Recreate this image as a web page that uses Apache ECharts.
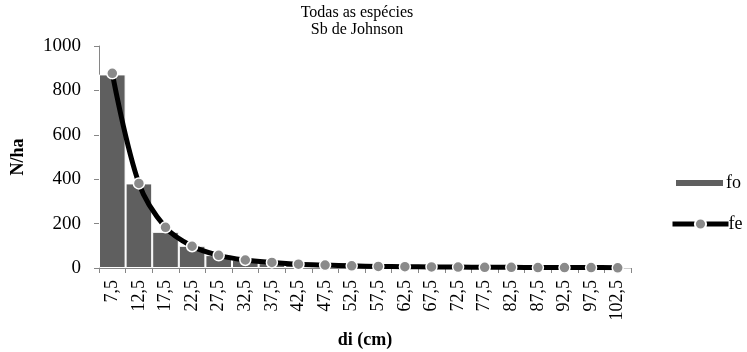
<!DOCTYPE html>
<html><head><meta charset="utf-8">
<script src="https://cdn.jsdelivr.net/npm/echarts@6/dist/echarts.min.js"></script>
<style>html,body{margin:0;padding:0;background:#fff}#c{width:747px;height:352px}</style>
</head><body><div id="c"></div>
<script>
const categories = ["7,5","12,5","17,5","22,5","27,5","32,5","37,5","42,5","47,5","52,5","57,5","62,5","67,5","72,5","77,5","82,5","87,5","92,5","97,5","102,5"];
const foValues = [872, 381, 163, 100, 58, 38, 22, 14, 10, 8, 6, 4, 3, 3, 2, 2, 2, 1, 1, 1];
const feValues = [877, 381, 183, 98, 57, 36, 25, 17, 13, 10, 7, 6, 5, 4, 3, 3, 2, 2, 2, 1];
const yTicks = [0, 200, 400, 600, 800, 1000];
const titleLines = ["Todas as espécies", "Sb de Johnson"];

const font = "'Liberation Serif', 'Times New Roman', serif";
const axisGray = '#868686';
const chart = echarts.init(document.getElementById('c'));
chart.setOption({
  animation: false,
  textStyle: { fontFamily: font },
  title: {
    text: titleLines.join('\n'),
    left: 357, top: 4, textAlign: 'center', padding: 0,
    textStyle: { fontFamily: font, fontSize: 16, fontWeight: 'normal', color: '#000', lineHeight: 17 }
  },
  legend: [{
    data: ['fo'], orient: 'vertical', left: 674, top: 174, padding: 0,
    itemWidth: 49, itemHeight: 8,
    textStyle: { fontFamily: font, fontSize: 18, color: '#000', padding: [0,0,0,-3] },
    icon: 'rect'
  }, {
    data: ['fe'], orient: 'vertical', left: 670, top: 215, padding: 0,
    itemWidth: 56, itemHeight: 14,
    lineStyle: { width: 5, color: '#000' },
    textStyle: { fontFamily: font, fontSize: 18, color: '#000', padding: [0,0,0,-5] }
  }],
  grid: { left: 99, right: 116, top: 46, bottom: 84, containLabel: false, outerBoundsMode: 'none' },
  xAxis: {
    type: 'category', data: categories, boundaryGap: true,
    name: 'di (cm)', nameLocation: 'middle', nameGap: 63,
    nameTextStyle: { fontFamily: font, fontSize: 18, fontWeight: 'bold', color: '#000' },
    axisLine: { lineStyle: { color: axisGray, width: 1 } },
    axisTick: { show: true, alignWithLabel: false, length: 5, lineStyle: { color: axisGray } },
    axisLabel: { rotate: 90, interval: 0, fontFamily: font, fontSize: 18, color: '#000', margin: 12 }
  },
  yAxis: {
    type: 'value', min: 0, max: 1000, interval: 200,
    name: 'N/ha', nameLocation: 'middle', nameGap: 72,
    nameTextStyle: { fontFamily: font, fontSize: 18, fontWeight: 'bold', color: '#000' },
    axisLine: { show: true, lineStyle: { color: axisGray, width: 1 } },
    axisTick: { show: true, length: 5, lineStyle: { color: axisGray } },
    splitLine: { show: false },
    axisLabel: { fontFamily: font, fontSize: 19, color: '#000', margin: 18,
      formatter: v => yTicks.includes(v) ? String(v) : '' }
  },
  series: [{
    name: 'fo', type: 'bar', data: foValues,
    barCategoryGap: '0%', barGap: '0%',
    itemStyle: { color: '#5f5f5f', borderColor: '#ffffff', borderWidth: 1 }
  }, {
    name: 'fe', type: 'line', data: feValues, smooth: 0.35,
    symbol: 'circle', symbolSize: 11,
    lineStyle: { color: '#000', width: 5 },
    itemStyle: { color: '#8a8a8a', borderColor: '#ffffff', borderWidth: 1.5 },
    z: 3
  }]
});
</script></body></html>
